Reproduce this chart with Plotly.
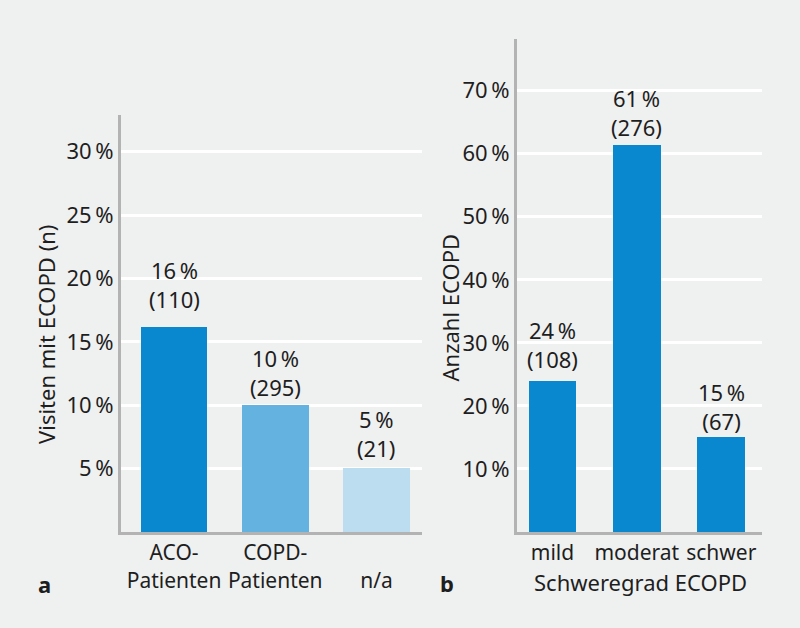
import plotly.graph_objects as go

# ---- data ----
cats_a = ["ACO-Patienten", "COPD-Patienten", "n/a"]
ticktext_a = ["ACO-<br>Patienten", "COPD-<br>Patienten", " <br>n/a"]
pct_a = [16.2, 10.05, 5.05]
n_a = [110, 295, 21]
colors_a = ["#0a88cf", "#63b2df", "#bcdcf0"]
yticks_a = [5, 10, 15, 20, 25, 30]
yticklabels_a = ["5\u2009%", "10\u2009%", "15\u2009%", "20\u2009%", "25\u2009%", "30\u2009%"]

cats_b = ["mild", "moderat", "schwer"]
pct_b = [23.9, 61.4, 15.1]
n_b = [108, 276, 67]
yticks_b = [10, 20, 30, 40, 50, 60, 70]
yticklabels_b = ["10\u2009%", "20\u2009%", "30\u2009%", "40\u2009%", "50\u2009%", "60\u2009%", "70\u2009%"]

# label offsets above bars (pixels, style only)
shift_a = [11, 1, 3]
shift_b = [5, 1, -1]

BG = "#eff0f0"
TXT = "#1e1e1e"
AXC = "#b3b3b3"
FONT = "Noto Sans"
FS = 22

fig = go.Figure()
fig.add_trace(go.Bar(x=cats_a, y=pct_a, marker=dict(color=colors_a, line=dict(width=0)),
                     width=0.66, xaxis="x", yaxis="y", hoverinfo="skip"))
fig.add_trace(go.Bar(x=cats_b, y=pct_b, marker=dict(color="#0a88cf", line=dict(width=0)),
                     width=0.565, xaxis="x2", yaxis="y2", hoverinfo="skip"))

ann = []
for c, v, n, s in zip(cats_a, pct_a, n_a, shift_a):
    ann.append(dict(x=c, y=v, xref="x", yref="y", text=f"{round(v)}\u2009%<br>({n})",
                    showarrow=False, yanchor="bottom", yshift=s,
                    font=dict(family=FONT, size=FS, color=TXT)))
for c, v, n, s in zip(cats_b, pct_b, n_b, shift_b):
    ann.append(dict(x=c, y=v, xref="x2", yref="y2", text=f"{round(v)}\u2009%<br>({n})",
                    showarrow=False, yanchor="bottom", yshift=s,
                    font=dict(family=FONT, size=FS, color=TXT)))

ann += [
    dict(x=46/800, y=1-335/628, xref="paper", yref="paper", text="Visiten mit ECOPD (n)",
         textangle=-90, showarrow=False, xanchor="center", yanchor="middle",
         font=dict(family=FONT, size=FS, color=TXT)),
    dict(x=449/800, y=1-307.5/628, xref="paper", yref="paper", text="Anzahl ECOPD",
         textangle=-90, showarrow=False, xanchor="center", yanchor="middle",
         font=dict(family=FONT, size=FS, color=TXT)),
    dict(x=640/800, y=1-582/628, xref="paper", yref="paper", text="Schweregrad ECOPD",
         showarrow=False, xanchor="center", yanchor="middle",
         font=dict(family=FONT, size=FS, color=TXT)),
    dict(x=44/800, y=1-584/628, xref="paper", yref="paper", text="<b>a</b>",
         showarrow=False, xanchor="center", yanchor="middle",
         font=dict(family=FONT, size=FS, color=TXT)),
    dict(x=447/800, y=1-583/628, xref="paper", yref="paper", text="<b>b</b>",
         showarrow=False, xanchor="center", yanchor="middle",
         font=dict(family=FONT, size=FS, color=TXT)),
]

tickfont = dict(family=FONT, size=FS, color=TXT)
xtickfont = dict(family=FONT, size=21, color=TXT)
common_x = dict(type="category", showgrid=False, showline=True, linecolor=AXC, linewidth=3,
                ticks="", tickfont=xtickfont, zeroline=False, fixedrange=True,
                tickangle=0, automargin=False)
common_y = dict(showgrid=True, gridcolor="white", gridwidth=3, showline=True, linecolor=AXC,
                linewidth=3, ticks="", tickfont=tickfont, zeroline=False,
                tickmode="array", ticklabelstandoff=0, fixedrange=True, automargin=False)

fig.update_layout(
    width=800, height=628,
    margin=dict(l=0, r=0, t=0, b=0),
    paper_bgcolor=BG, plot_bgcolor=BG,
    showlegend=False,
    font=dict(family=FONT, size=FS, color=TXT),
    xaxis=dict(common_x, domain=[121/800, 422/800], range=[-0.524, 2.45], anchor="y",
               tickvals=cats_a, ticktext=ticktext_a),
    yaxis=dict(common_y, domain=[1-532/628, 1-115/628], range=[0, 32.9], anchor="x",
               tickvals=yticks_a, ticktext=yticklabels_a),
    xaxis2=dict(common_x, domain=[517/800, 762/800], range=[-0.42, 2.483], anchor="y2"),
    yaxis2=dict(common_y, domain=[1-532/628, 1-39/628], range=[0, 78.2], anchor="x2",
                tickvals=yticks_b, ticktext=yticklabels_b),
    annotations=ann,
    bargap=0,
)

fig.write_html("out.html", config={"displayModeBar": False},
               post_script="document.body.style.margin='0';document.body.style.background='#eff0f0';")
